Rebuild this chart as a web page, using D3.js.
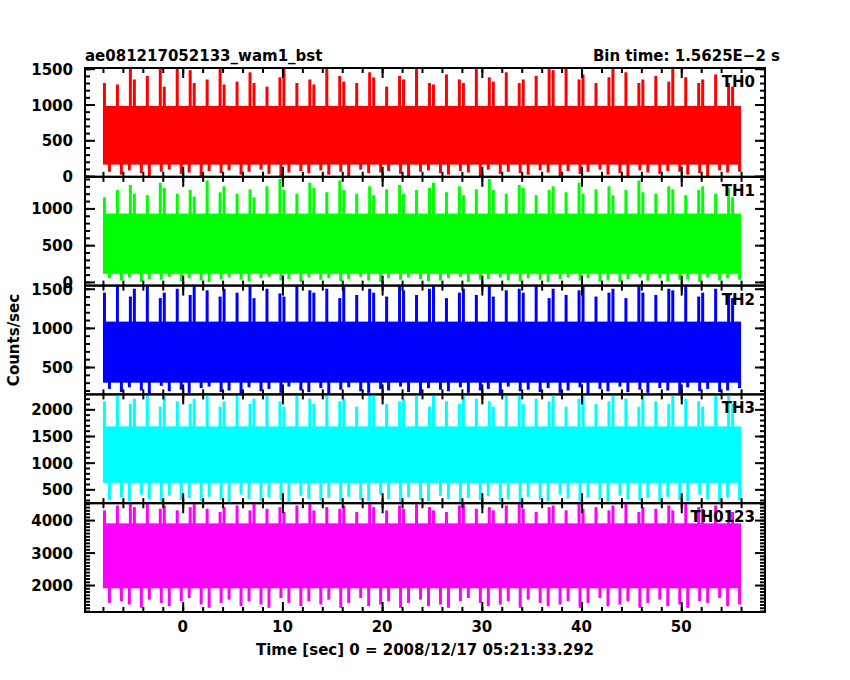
<!DOCTYPE html>
<html>
<head>
<meta charset="UTF-8">
<script src="https://d3js.org/d3.v7.min.js"></script>
<style>
  body { margin: 0; background: #fff; }
  text { font-family: "DejaVu Sans", sans-serif; font-weight: bold; fill: #000; }
</style>
</head>
<body>
<svg id="chart" width="850" height="680"></svg>
<script>
// time bins (1 s wide, start times), -8 .. 55
var binStart = d3.range(-8, 56);

var names = ["TH0", "TH1", "TH2", "TH3", "TH0123"];
var colors = ["#ff0000", "#00ff00", "#0000ff", "#00ffff", "#ff00ff"];
var domains = [[-10, 1510], [-50, 1430], [150, 1540], [240, 2280], [1170, 4520]];
var yTicks = [[0, 500, 1000, 1500], [0, 500, 1000], [500, 1000, 1500], [500, 1000, 1500, 2000], [2000, 3000, 4000]];
var xTicks = [0, 10, 20, 30, 40, 50];

// typical band edges (where the trace is solid)
var bodyHi = [980, 930, 1080, 1680, 3900];
var bodyLo = [160, 110, 300, 620, 1900];

// per-bin maximum / minimum rates
var th0Hi = [1300,1280,1500,1350,1400,1500,1250,1500,1480,1300,1350,1500,1280,1320,1450,1300,1250,1380,1500,1300,1350,1280,1500,1400,1320,1300,1450,1380,1250,1400,1350,1500,1300,1280,1420,1350,1300,1500,1380,1320,1450,1300,1350,1400,1500,1480,1500,1350,1420,1300,1380,1500,1450,1300,1350,1400,1320,1500,1380,1300,1350,1420,1300,1250];
var th0Lo = [60,20,80,40,0,60,90,30,50,0,70,40,80,20,60,90,30,0,50,70,40,80,20,60,0,90,40,50,70,30,0,60,80,40,20,70,50,0,90,30,60,40,20,80,50,0,70,30,60,90,20,40,0,80,50,30,70,60,20,40,0,80,50,60];
var th1Hi = [1150,1250,1320,1200,1180,1350,1280,1200,1250,1160,1380,1220,1300,1200,1260,1150,1300,1400,1250,1200,1350,1280,1220,1380,1250,1200,1300,1180,1260,1320,1200,1250,1280,1350,1220,1300,1180,1260,1400,1250,1200,1320,1280,1180,1250,1300,1220,1350,1200,1260,1300,1180,1250,1380,1220,1200,1300,1260,1180,1250,1300,1200,1280,1150];
var th1Lo = [50,20,60,0,40,30,70,10,50,20,0,40,60,30,10,50,70,20,40,0,60,30,50,10,40,70,20,0,50,30,60,40,10,20,50,70,0,30,40,60,20,10,50,30,0,40,60,20,50,10,30,0,40,60,20,50,10,30,40,0,60,20,50,30];
var th2Hi = [1450,1540,1400,1500,1540,1380,1450,1500,1420,1540,1480,1400,1500,1450,1540,1380,1500,1440,1400,1540,1480,1450,1500,1380,1540,1420,1500,1450,1400,1540,1480,1420,1500,1540,1380,1450,1500,1420,1540,1400,1480,1500,1450,1540,1380,1500,1420,1480,1540,1400,1450,1500,1380,1540,1450,1420,1500,1480,1540,1400,1450,1500,1420,1380];
var th2Lo = [220,180,240,200,160,260,190,210,170,230,250,180,200,160,240,190,220,170,250,200,180,230,160,210,240,190,170,220,200,250,180,160,230,210,190,240,170,200,220,160,250,190,210,180,230,170,200,240,160,220,190,250,180,210,170,230,200,160,240,190,220,180,200,230];
var th3Hi = [2150,2280,2100,2200,2250,2050,2280,2150,2100,2200,2280,2050,2150,2250,2100,2200,2280,2150,2050,2250,2200,2100,2280,2150,2200,2050,2250,2280,2100,2150,2200,2280,2050,2250,2150,2100,2280,2200,2150,2050,2250,2280,2100,2200,2150,2280,2050,2200,2250,2100,2150,2280,2200,2050,2250,2150,2100,2280,2200,2150,2050,2250,2280,2100];
var th3Lo = [300,350,280,400,320,260,380,300,340,280,360,300,260,400,320,280,350,300,260,380,320,290,340,270,360,300,280,400,320,260,350,300,280,380,320,260,340,300,370,280,320,260,360,300,280,400,330,270,350,300,260,380,320,290,340,270,360,300,280,400,320,260,350,300];
var th4Hi = [4300,4450,4520,4400,4520,4350,4450,4300,4400,4520,4350,4250,4400,4450,4300,4520,4350,4400,4250,4450,4520,4300,4400,4350,4450,4250,4520,4400,4300,4450,4350,4520,4400,4300,4250,4450,4520,4350,4400,4300,4450,4520,4350,4250,4400,4450,4300,4520,4350,4400,4300,4450,4520,4250,4400,4350,4450,4300,4520,4400,4350,4450,4300,4250];
var th4Lo = [1450,1500,1400,1300,1550,1450,1350,1500,1600,1400,1300,1450,1550,1350,1500,1400,1300,1600,1450,1350,1500,1400,1550,1300,1450,1600,1350,1400,1500,1300,1450,1550,1350,1400,1300,1500,1600,1450,1350,1400,1500,1300,1550,1450,1350,1400,1500,1300,1450,1600,1350,1400,1500,1300,1450,1550,1350,1400,1300,1500,1450,1600,1350,1400];

var hiAll = [th0Hi, th1Hi, th2Hi, th3Hi, th4Hi];
var loAll = [th0Lo, th1Lo, th2Lo, th3Lo, th4Lo];

var svg = d3.select("#chart");
var left = 85, right = 765, top0 = 68, ph = 108.8;
var x = d3.scaleLinear().domain([-9.8, 58.4]).range([left, right]);

names.forEach(function(name, i) {
  var y0 = top0 + i * ph;
  var y = d3.scaleLinear().domain(domains[i]).range([y0 + ph, y0]).clamp(true);
  var g = svg.append("g");

  // solid body of the trace
  g.append("rect")
    .attr("x", x(binStart[0])).attr("width", x(binStart[binStart.length - 1] + 1) - x(binStart[0]))
    .attr("y", y(bodyHi[i])).attr("height", y(bodyLo[i]) - y(bodyHi[i]))
    .attr("fill", colors[i]);
  // spikes per bin (max up, min down)
  g.selectAll("rect.hi").data(binStart).enter().append("rect")
    .attr("x", function(t, k) { return x(t + (k % 3) * 0.3); })
    .attr("width", 3)
    .attr("y", function(t, k) { return y(hiAll[i][k]); })
    .attr("height", function(t, k) { return y(bodyHi[i]) - y(hiAll[i][k]) + 1; })
    .attr("fill", colors[i]);
  g.selectAll("rect.lo").data(binStart).enter().append("rect")
    .attr("x", function(t, k) { return x(t + 0.5 + (k % 2) * 0.2); })
    .attr("width", 3)
    .attr("y", y(bodyLo[i]) - 1)
    .attr("height", function(t, k) { return y(loAll[i][k]) - y(bodyLo[i]) + 1; })
    .attr("fill", colors[i]);

  // left / right y axes, inward ticks
  var minor = d3.range(Math.ceil(domains[i][0] / 100) * 100, domains[i][1], 100);
  g.append("g").attr("transform", "translate(" + left + ",0)")
    .call(d3.axisRight(y).tickValues(minor).tickSize(5).tickFormat(""));
  g.append("g").attr("transform", "translate(" + left + ",0)")
    .call(d3.axisRight(y).tickValues(yTicks[i]).tickSize(10).tickFormat(""));
  g.append("g").attr("transform", "translate(" + right + ",0)")
    .call(d3.axisLeft(y).tickValues(minor).tickSize(5).tickFormat(""));
  g.append("g").attr("transform", "translate(" + right + ",0)")
    .call(d3.axisLeft(y).tickValues(yTicks[i]).tickSize(10).tickFormat(""));
  g.selectAll("text.yl").data(yTicks[i]).enter().append("text")
    .attr("x", left - 12).attr("y", function(v) { return y(v) + 6; })
    .attr("text-anchor", "end").attr("font-size", 15).text(function(v) { return v; });

  // top / bottom x ticks, inward
  var xminor = d3.range(-8, 58, 2);
  g.append("g").attr("transform", "translate(0," + (y0 + ph) + ")")
    .call(d3.axisTop(x).tickValues(xminor).tickSize(5).tickFormat(""));
  g.append("g").attr("transform", "translate(0," + (y0 + ph) + ")")
    .call(d3.axisTop(x).tickValues(xTicks).tickSize(10).tickFormat(""));
  g.append("g").attr("transform", "translate(0," + y0 + ")")
    .call(d3.axisBottom(x).tickValues(xminor).tickSize(5).tickFormat(""));
  g.append("g").attr("transform", "translate(0," + y0 + ")")
    .call(d3.axisBottom(x).tickValues(xTicks).tickSize(10).tickFormat(""));
  g.selectAll(".domain").remove();
  g.selectAll(".tick line").attr("stroke", "#000").attr("stroke-width", 2);

  g.append("rect").attr("x", left).attr("y", y0).attr("width", right - left).attr("height", ph)
    .attr("fill", "none").attr("stroke", "#000").attr("stroke-width", 2);

  g.append("text").attr("x", right - 10).attr("y", y0 + 19).attr("text-anchor", "end")
    .attr("font-size", 15).text(name);
});

svg.selectAll("text.xl").data(xTicks).enter().append("text")
  .attr("x", function(v) { return x(v); }).attr("y", 632)
  .attr("text-anchor", "middle").attr("font-size", 15).text(function(v) { return v; });

svg.append("text").attr("x", 425).attr("y", 655).attr("text-anchor", "middle").attr("font-size", 15)
  .text("Time [sec] 0 = 2008/12/17 05:21:33.292");
svg.append("text").attr("x", 85).attr("y", 61).attr("font-size", 15).text("ae081217052133_wam1_bst");
svg.append("text").attr("x", 780).attr("y", 61).attr("text-anchor", "end").attr("font-size", 15).text("Bin time: 1.5625E\u22122 s");
svg.append("text").attr("transform", "translate(19,340) rotate(-90)").attr("text-anchor", "middle")
  .attr("font-size", 15).text("Counts/sec");
</script>
</body>
</html>
